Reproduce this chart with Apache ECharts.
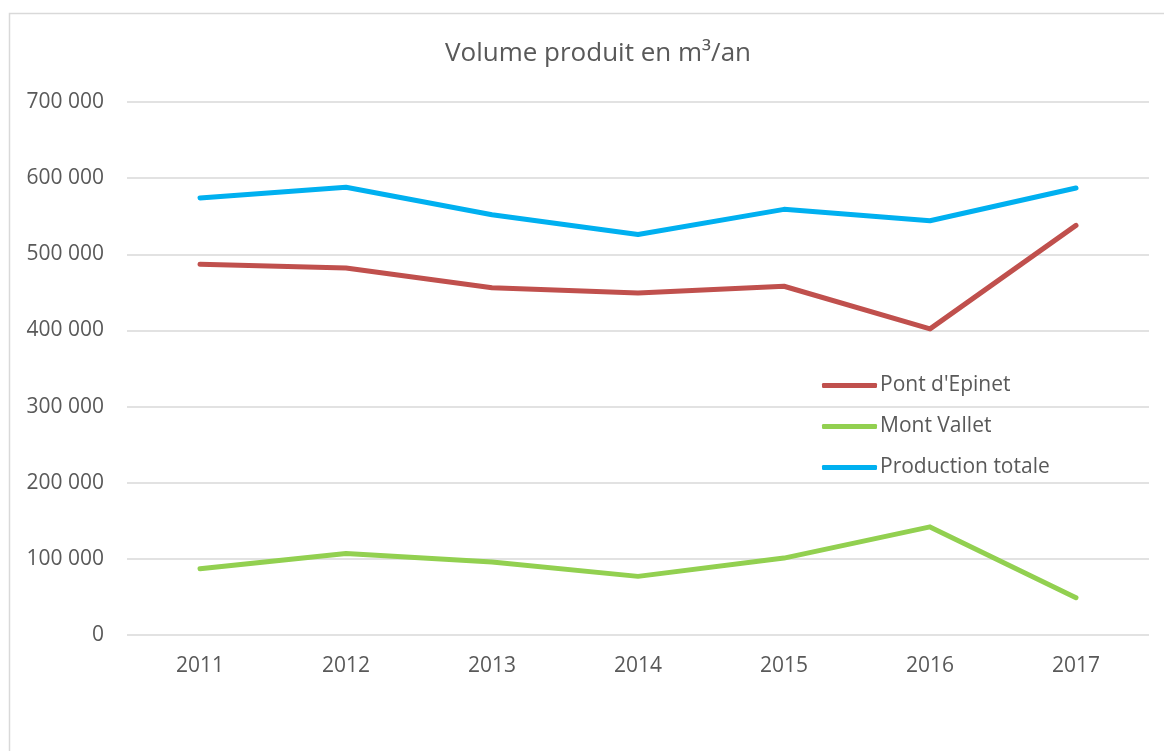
<!DOCTYPE html>
<html><head><meta charset="utf-8">
<script src="https://cdn.jsdelivr.net/npm/echarts@6/dist/echarts.min.js"></script>
<style>html,body{margin:0;padding:0;background:#fff}#c{width:1164px;height:751px}</style>
</head><body><div id="c"></div>
<script>
const categories = ['2011','2012','2013','2014','2015','2016','2017'];
const pontEpinet = [487000, 482000, 456000, 449000, 458000, 402000, 538000];
const montVallet = [87000, 107000, 96000, 77000, 101000, 142000, 49000];
const productionTotale = [574000, 588000, 552000, 526000, 559000, 544000, 587000];
const seriesNames = ["Pont d'Epinet", 'Mont Vallet', 'Production totale'];
const title = 'Volume produit en m³/an';

const FONT = 'Open Sans';
const chart = echarts.init(document.getElementById('c'));
function fmt(v){ return String(v).replace(/\B(?=(\d{3})+(?!\d))/g, ' '); }
const lineSeries = (name, data, color) => ({
  name, type: 'line', data, showSymbol: false, symbol: 'none',
  lineStyle: { color, width: 5, cap: 'round', join: 'round' },
  itemStyle: { color }, animation: false
});
chart.setOption({
  animation: false,
  textStyle: { fontFamily: FONT },
  graphic: [{ type: 'rect', shape: { x: 9.5, y: 13.5, width: 1200, height: 800 },
    style: { fill: 'none', stroke: '#D9D9D9', lineWidth: 1.5 }, silent: true }],
  title: { text: title, left: 440, top: 36,
    textStyle: { fontFamily: FONT, fontSize: 26, fontWeight: 'normal', color: '#595959' } },
  legend: {
    orient: 'vertical', left: 817, top: 370, itemWidth: 55, itemHeight: 5, itemGap: 20,
    icon: 'roundRect',
    itemStyle: { borderWidth: 0 },
    textStyle: { fontFamily: FONT, fontSize: 21, color: '#595959', padding: [0,0,0,-2] },
    data: seriesNames
  },
  grid: { left: 127, right: 15, top: 102, bottom: 116, containLabel: false },
  xAxis: {
    type: 'category', data: categories, boundaryGap: true,
    axisLine: { show: false }, axisTick: { show: false },
    axisLabel: { fontFamily: FONT, fontSize: 21, color: '#595959', margin: 21 }
  },
  yAxis: {
    type: 'value', min: 0, max: 700000, interval: 100000,
    axisLine: { show: false }, axisTick: { show: false },
    splitLine: { lineStyle: { color: '#D9D9D9', width: 1.5 } },
    axisLabel: { fontFamily: FONT, fontSize: 21, color: '#595959', margin: 23, formatter: fmt }
  },
  series: [
    lineSeries(seriesNames[0], pontEpinet, '#C0504D'),
    lineSeries(seriesNames[1], montVallet, '#92D050'),
    lineSeries(seriesNames[2], productionTotale, '#00B0F0')
  ]
});
</script></body></html>
